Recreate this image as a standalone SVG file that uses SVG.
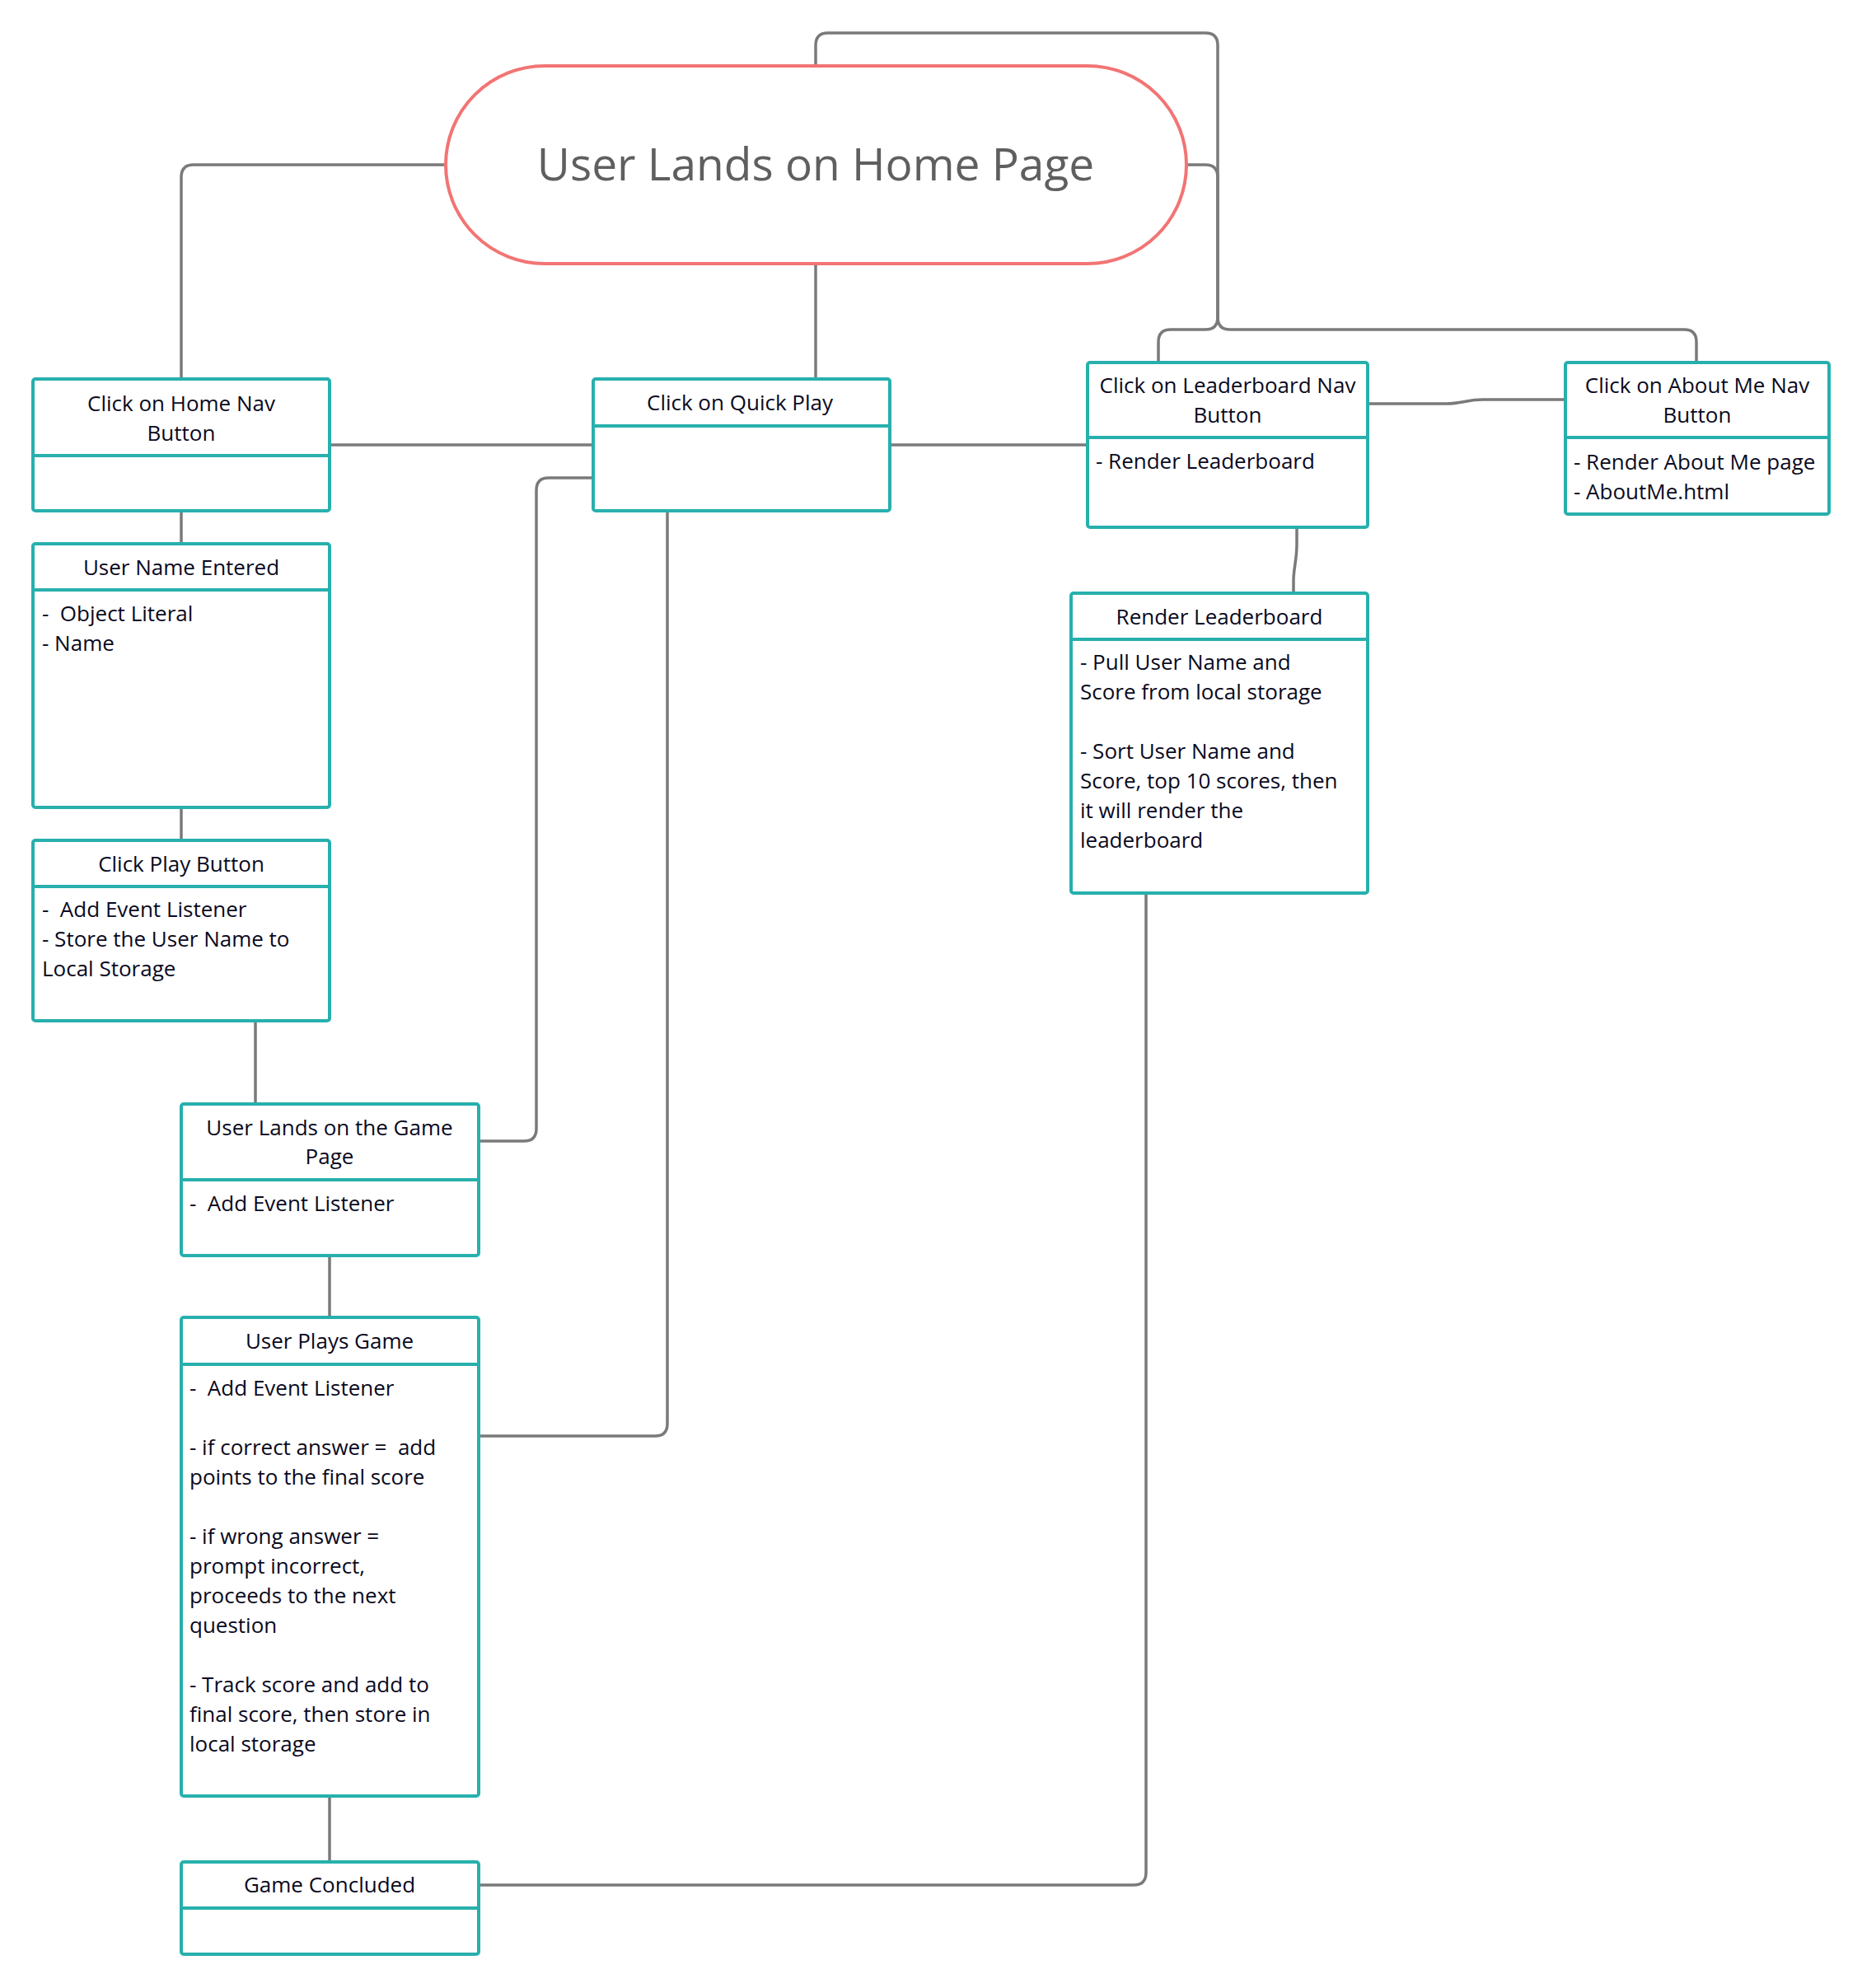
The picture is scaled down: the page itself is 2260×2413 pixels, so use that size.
<svg xmlns="http://www.w3.org/2000/svg" width="2260" height="2413" viewBox="0 0 2260 2413">
<style>
.box{fill:#ffffff;stroke:#27b0ad;stroke-width:4}
.div{stroke:#27b0ad;stroke-width:4}
.t{font-family:"Open Sans",sans-serif;font-size:26px;fill:#0a0a1e}
.c{text-anchor:middle}
.con{fill:none;stroke:#7a7a7a;stroke-width:3.5}
</style>
<rect width="2260" height="2413" fill="#ffffff"/>
<g id="connectors">
<path class="con" d="M990,80 V55 Q990,40 1005,40 H1463 Q1478,40 1478,55 V385 Q1478,400 1463,400 H1421 Q1406,400 1406,415 V440"/>
<path class="con" d="M1440,200 H1463 Q1478,200 1478,215 V385 Q1478,400 1493,400 H2044 Q2059,400 2059,415 V440"/>
<path class="con" d="M541,200 H235 Q220,200 220,215 V460"/>
<path class="con" d="M990,320 V460"/>
<path class="con" d="M400,540 H720"/>
<path class="con" d="M1080,540 H1320"/>
<path class="con" d="M1660,490 H1755 C1775,490 1780,485 1800,485 H1900"/>
<path class="con" d="M1574,640 V660 C1574,680 1570,690 1570,705 V720"/>
<path class="con" d="M220,620 V660"/>
<path class="con" d="M220,980 V1020"/>
<path class="con" d="M310,1239 V1340"/>
<path class="con" d="M720,580 H666 Q651,580 651,595 V1370 Q651,1385 636,1385 H581"/>
<path class="con" d="M810,620 V1728 Q810,1743 795,1743 H581"/>
<path class="con" d="M400,1524 V1599"/>
<path class="con" d="M400,2180 V2260"/>
<path class="con" d="M581,2288 H1376 Q1391,2288 1391,2273 V1084"/>
</g>
<g id="home">
<rect x="541" y="80" width="899" height="240" rx="120" ry="120" fill="#ffffff" stroke="#f27474" stroke-width="4"/>
<text x="990" y="219" font-family="Open Sans, sans-serif" font-size="55" fill="#5f5f5f" text-anchor="middle">User Lands on Home Page</text>
</g>
<g id="homeNav">
<rect class="box" x="40" y="460" width="360" height="160" rx="3"/>
<line class="div" x1="40" y1="553" x2="400" y2="553"/>
<text class="t c" x="220" y="499">Click on Home Nav</text>
<text class="t c" x="220" y="535">Button</text>
</g>
<g id="quickPlay">
<rect class="box" x="720" y="460" width="360" height="160" rx="3"/>
<line class="div" x1="720" y1="517" x2="1080" y2="517"/>
<text class="t c" x="898" y="498">Click on Quick Play</text>
</g>
<g id="leaderboardNav">
<rect class="box" x="1320" y="440" width="340" height="200" rx="3"/>
<line class="div" x1="1320" y1="531" x2="1660" y2="531"/>
<text class="t c" x="1490" y="477">Click on Leaderboard Nav</text>
<text class="t c" x="1490" y="513">Button</text>
<text class="t" x="1330" y="569">- Render Leaderboard</text>
</g>
<g id="aboutMeNav">
<rect class="box" x="1900" y="440" width="320" height="184" rx="3"/>
<line class="div" x1="1900" y1="531" x2="2220" y2="531"/>
<text class="t c" x="2060" y="477">Click on About Me Nav</text>
<text class="t c" x="2060" y="513">Button</text>
<text class="t" x="1910" y="570">- Render About Me page</text>
<text class="t" x="1910" y="606">- AboutMe.html</text>
</g>
<g id="userName">
<rect class="box" x="40" y="660" width="360" height="320" rx="3"/>
<line class="div" x1="40" y1="716" x2="400" y2="716"/>
<text class="t c" x="220" y="698">User Name Entered</text>
<text class="t" x="51" y="754" xml:space="preserve">-  Object Literal</text>
<text class="t" x="51" y="790">- Name</text>
</g>
<g id="clickPlay">
<rect class="box" x="40" y="1020" width="360" height="219" rx="3"/>
<line class="div" x1="40" y1="1076" x2="400" y2="1076"/>
<text class="t c" x="220" y="1058">Click Play Button</text>
<text class="t" x="51" y="1113" xml:space="preserve">-  Add Event Listener</text>
<text class="t" x="51" y="1149">- Store the User Name to</text>
<text class="t" x="51" y="1185">Local Storage</text>
</g>
<g id="gamePage">
<rect class="box" x="220" y="1340" width="361" height="184" rx="3"/>
<line class="div" x1="220" y1="1432" x2="581" y2="1432"/>
<text class="t c" x="400" y="1378">User Lands on the Game</text>
<text class="t c" x="400" y="1413">Page</text>
<text class="t" x="230" y="1470" xml:space="preserve">-  Add Event Listener</text>
</g>
<g id="playsGame">
<rect class="box" x="220" y="1599" width="361" height="581" rx="3"/>
<line class="div" x1="220" y1="1656" x2="581" y2="1656"/>
<text class="t c" x="400" y="1637">User Plays Game</text>
<text class="t" x="230" y="1694" xml:space="preserve">-  Add Event Listener</text>
<text class="t" x="230" y="1766" xml:space="preserve">- if correct answer =  add</text>
<text class="t" x="230" y="1802">points to the final score</text>
<text class="t" x="230" y="1874">- if wrong answer =</text>
<text class="t" x="230" y="1910">prompt incorrect,</text>
<text class="t" x="230" y="1946">proceeds to the next</text>
<text class="t" x="230" y="1982">question</text>
<text class="t" x="230" y="2054">- Track score and add to</text>
<text class="t" x="230" y="2090">final score, then store in</text>
<text class="t" x="230" y="2126">local storage</text>
</g>
<g id="gameConcluded">
<rect class="box" x="220" y="2260" width="361" height="112" rx="3"/>
<line class="div" x1="220" y1="2316" x2="581" y2="2316"/>
<text class="t c" x="400" y="2297">Game Concluded</text>
</g>
<g id="renderLeaderboard">
<rect class="box" x="1300" y="720" width="360" height="364" rx="3"/>
<line class="div" x1="1300" y1="776" x2="1660" y2="776"/>
<text class="t c" x="1480" y="758">Render Leaderboard</text>
<text class="t" x="1311" y="813">- Pull User Name and</text>
<text class="t" x="1311" y="849">Score from local storage</text>
<text class="t" x="1311" y="921">- Sort User Name and</text>
<text class="t" x="1311" y="957">Score, top 10 scores, then</text>
<text class="t" x="1311" y="993">it will render the</text>
<text class="t" x="1311" y="1029">leaderboard</text>
</g>
</svg>
